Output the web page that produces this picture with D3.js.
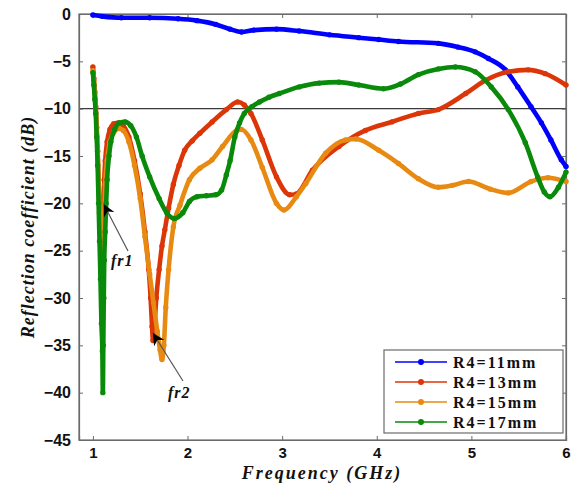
<!DOCTYPE html>
<html><head><meta charset="utf-8">
<script src="https://cdn.jsdelivr.net/npm/d3@7"></script>
<style>
body{margin:0;background:#fff;}
svg{display:block;}
</style></head>
<body><svg id="c" width="578" height="484"></svg>
<script>
const seriesNames = ["R4=11mm","R4=13mm","R4=15mm","R4=17mm"];
const seriesColors = ["#0000ff","#dc3608","#e88a12","#0a8a0a"];
const xTicks = [1,2,3,4,5,6];
const yTicks = [0,-5,-10,-15,-20,-25,-30,-35,-40,-45];

const r11 = [[1.00,-0.1],[1.1,-0.25],[1.3,-0.4],[1.6,-0.4],[1.9,-0.5],[2.1,-0.7],[2.3,-1.1],[2.45,-1.6],[2.57,-1.9],[2.7,-1.7],[2.94,-1.6],[3.18,-1.8],[3.5,-2.2],[3.81,-2.5],[4.02,-2.7],[4.23,-2.9],[4.65,-3.1],[4.86,-3.5],[5.04,-4.0],[5.18,-4.7],[5.36,-5.9],[5.49,-7.7],[5.63,-9.8],[5.74,-11.5],[5.84,-13.3],[5.95,-15.4],[6.0,-16.1]];

const r13 = [[1.00,-5.6],[1.01,-6.8],[1.02,-8.2],[1.03,-9.8],[1.04,-12],[1.05,-14.5],[1.06,-17.5],[1.07,-21],[1.08,-24],[1.09,-26],[1.10,-24],[1.11,-20.5],[1.12,-17.5],[1.13,-15.5],[1.15,-13.5],[1.18,-12.2],[1.22,-11.6],[1.27,-11.5],[1.32,-11.8],[1.38,-13],[1.44,-15.5],[1.5,-19],[1.55,-23],[1.59,-27],[1.61,-30],[1.625,-33],[1.635,-34.5],[1.65,-33],[1.67,-30],[1.7,-27],[1.73,-24.5],[1.76,-22.8],[1.8,-20.5],[1.85,-18],[1.91,-16],[1.97,-14.4],[2.05,-13.4],[2.13,-12.6],[2.26,-11.4],[2.41,-10.1],[2.53,-9.3],[2.6,-9.6],[2.67,-10.5],[2.79,-13.3],[2.94,-17.2],[3.08,-19.1],[3.15,-19],[3.32,-16.5],[3.6,-14],[3.88,-12.3],[4.16,-11.4],[4.44,-10.5],[4.65,-10.1],[4.94,-8.4],[5.15,-7],[5.39,-6.1],[5.6,-5.9],[5.78,-6.3],[6.0,-7.5]];

const r15 = [[1.00,-6.0],[1.01,-7.0],[1.02,-8.3],[1.03,-9.8],[1.04,-12],[1.05,-14.5],[1.06,-17.5],[1.07,-21],[1.08,-24.5],[1.09,-27.5],[1.10,-28.5],[1.11,-25],[1.12,-21],[1.13,-18],[1.15,-15.5],[1.18,-13.5],[1.22,-12.5],[1.28,-12.1],[1.32,-12.3],[1.38,-13.5],[1.44,-16],[1.5,-19.5],[1.55,-23.5],[1.6,-27.5],[1.64,-30.5],[1.68,-33.5],[1.71,-35.5],[1.73,-36.5],[1.75,-35],[1.77,-31],[1.8,-27],[1.85,-22.5],[1.92,-20.2],[2.02,-17.5],[2.13,-16.3],[2.26,-15.4],[2.37,-14],[2.52,-12.3],[2.57,-12.2],[2.67,-13.3],[2.79,-16.2],[2.94,-20],[3.02,-20.7],[3.15,-19.3],[3.25,-17.9],[3.46,-14.7],[3.67,-13.3],[3.78,-13.2],[4.02,-14.4],[4.23,-15.8],[4.44,-17.4],[4.65,-18.3],[4.8,-18.1],[4.97,-17.7],[5.2,-18.5],[5.39,-18.9],[5.63,-17.7],[5.81,-17.3],[6.0,-17.7]];

const r17 = [[1.00,-6.2],[1.01,-7.5],[1.02,-9],[1.03,-10.5],[1.04,-13],[1.05,-16],[1.06,-20],[1.07,-24],[1.08,-28],[1.09,-32.7],[1.10,-35.6],[1.105,-40],[1.11,-35],[1.115,-30],[1.12,-26],[1.13,-23],[1.14,-20],[1.15,-17.5],[1.17,-15],[1.19,-13.5],[1.23,-12.2],[1.28,-11.5],[1.34,-11.4],[1.4,-11.8],[1.46,-13],[1.52,-15],[1.6,-17.2],[1.7,-19.5],[1.78,-21],[1.86,-21.6],[1.95,-21],[2.02,-19.8],[2.1,-19.3],[2.2,-19.2],[2.3,-19.1],[2.36,-18.6],[2.41,-17],[2.45,-15.5],[2.5,-13],[2.55,-11.5],[2.6,-10.5],[2.68,-9.8],[2.76,-9.3],[2.86,-8.8],[2.97,-8.4],[3.18,-7.7],[3.39,-7.3],[3.6,-7.2],[3.81,-7.5],[4.07,-7.9],[4.25,-7.4],[4.44,-6.4],[4.65,-5.8],[4.83,-5.6],[5.04,-6.1],[5.21,-7.7],[5.39,-10.1],[5.57,-13.6],[5.7,-17.2],[5.77,-18.8],[5.83,-19.3],[5.92,-18.3],[6.0,-16.7]];

const allSeries = [r11, r13, r15, r17];

const L = 79, R = 566, T = 14, B = 440;
const svg = d3.select("#c");
const x = d3.scaleLinear().domain([0.853, 6]).range([L, R]);
const y = d3.scaleLinear().domain([-45, 0]).range([B, T]);

const frameColor = "#6b6b6b";
const sansBold = "'Liberation Sans', Arial, sans-serif";
const serif = "'Liberation Serif', 'Times New Roman', serif";

// frame
svg.append("rect").attr("x", L).attr("y", T).attr("width", R - L).attr("height", B - T)
  .attr("fill", "none").attr("stroke", frameColor).attr("stroke-width", 1.2);

// -10 reference line
svg.append("line").attr("x1", L).attr("x2", R).attr("y1", y(-10)).attr("y2", y(-10))
  .attr("stroke", "#3a3a3a").attr("stroke-width", 1.1);

// axes via d3
const axB = svg.append("g").attr("transform", `translate(0,${B})`)
  .call(d3.axisBottom(x).tickValues(xTicks).tickSize(-4).tickPadding(7).tickFormat(d3.format("d")));
const axT = svg.append("g").attr("transform", `translate(0,${T})`)
  .call(d3.axisTop(x).tickValues(xTicks).tickSize(-4).tickFormat(""));
const axL = svg.append("g").attr("transform", `translate(${L},0)`)
  .call(d3.axisLeft(y).tickValues(yTicks).tickSize(-4).tickPadding(8).tickFormat(d3.format("d")));
const axR = svg.append("g").attr("transform", `translate(${R},0)`)
  .call(d3.axisRight(y).tickValues(yTicks).tickSize(-4).tickFormat(""));
[axB, axT, axL, axR].forEach(g => {
  g.select(".domain").attr("stroke", frameColor).attr("stroke-width", 1.2);
  g.selectAll(".tick line").attr("stroke", frameColor);
  g.selectAll(".tick text").attr("font-family", sansBold).attr("font-weight", "bold")
    .attr("font-size", 16).attr("fill", "#111");
});
axB.selectAll(".tick text").attr("font-size", 15);

// curves
const line = d3.line().x(d => x(d[0])).y(d => y(d[1])).curve(d3.curveMonotoneX);
allSeries.forEach((s, i) => {
  const g = svg.append("g");
  g.append("path").datum(s).attr("d", line).attr("fill", "none")
    .attr("stroke", seriesColors[i]).attr("stroke-width", 4.6)
    .attr("stroke-linejoin", "round").attr("stroke-linecap", "round");
  g.selectAll("circle").data(s).join("circle")
    .attr("cx", d => x(d[0])).attr("cy", d => y(d[1])).attr("r", 2.7)
    .attr("fill", seriesColors[i]);
});

// annotations
const defs = svg.append("defs");
defs.append("marker").attr("id", "ah").attr("viewBox", "0 0 10 10").attr("refX", 9).attr("refY", 5)
  .attr("markerWidth", 12).attr("markerHeight", 12).attr("markerUnits", "userSpaceOnUse")
  .attr("orient", "auto")
  .append("path").attr("d", "M0,0 L10,5 L0,10 L3,5 Z").attr("fill", "#000");

const annos = [
  {label: "fr1", f: 1.12, v: -20.2, tx: 128, ty: 251, lx: 111, ly: 266},
  {label: "fr2", f: 1.64, v: -33.8, tx: 183, ty: 381, lx: 168, ly: 398}
];
annos.forEach(a => {
  svg.append("line").attr("x1", a.tx).attr("y1", a.ty).attr("x2", x(a.f)).attr("y2", y(a.v))
    .attr("stroke", "#555").attr("stroke-width", 1.2).attr("marker-end", "url(#ah)");
  svg.append("text").attr("x", a.lx).attr("y", a.ly).text(a.label)
    .attr("font-family", serif).attr("font-style", "italic").attr("font-weight", "bold")
    .attr("font-size", 16).attr("letter-spacing", 1).attr("fill", "#111");
});

// axis labels
svg.append("text").attr("x", 322).attr("y", 479).attr("text-anchor", "middle")
  .text("Frequency (GHz)").attr("font-family", serif).attr("font-style", "italic")
  .attr("font-weight", "bold").attr("font-size", 18).attr("letter-spacing", 2).attr("fill", "#111");
svg.append("text").attr("transform", `translate(34,${(T + B) / 2}) rotate(-90)`).attr("text-anchor", "middle")
  .text("Reflection coefficient (dB)").attr("font-family", serif).attr("font-style", "italic")
  .attr("font-weight", "bold").attr("font-size", 18).attr("letter-spacing", 1).attr("fill", "#111");

// legend
const lg = svg.append("g");
lg.append("rect").attr("x", 384).attr("y", 350).attr("width", 179).attr("height", 83)
  .attr("fill", "#fff").attr("stroke", frameColor).attr("stroke-width", 1.2);
seriesNames.forEach((n, i) => {
  const yy = 362 + i * 20;
  lg.append("line").attr("x1", 395).attr("x2", 447).attr("y1", yy).attr("y2", yy)
    .attr("stroke", seriesColors[i]).attr("stroke-width", 1.6);
  lg.append("circle").attr("cx", 421).attr("cy", yy).attr("r", 3).attr("fill", seriesColors[i]);
  lg.append("text").attr("x", 453).attr("y", yy + 5.5).text(n)
    .attr("font-family", serif).attr("font-weight", "bold").attr("font-size", 16)
    .attr("letter-spacing", 2).attr("fill", "#111");
});
</script></body></html>
